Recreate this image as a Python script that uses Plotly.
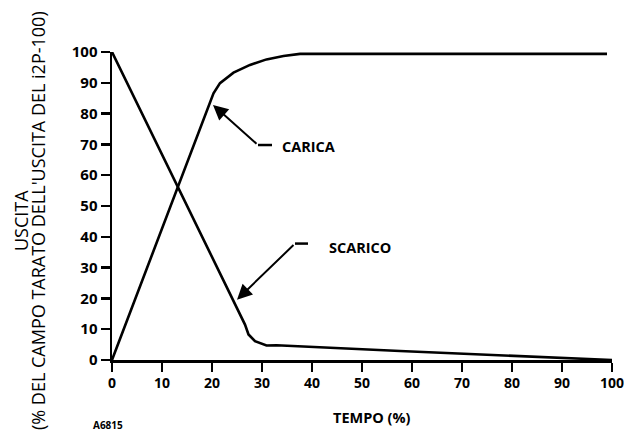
import plotly.graph_objects as go

# Data
carica_x = [0, 20.3, 21.6, 24.3, 27.6, 30.9, 34.3, 37.6, 99.0]
carica_y = [0, 86.6, 89.9, 93.3, 95.8, 97.6, 98.7, 99.4, 99.4]

scarico_x = [0, 26.6, 27.3, 28.6, 30.9, 32.9, 57.6, 100]
scarico_y = [100, 11.5, 8.3, 6.1, 4.7, 4.8, 2.9, 0]

x_ticks = [0, 10, 20, 30, 40, 50, 60, 70, 80, 90, 100]
y_ticks = [0, 10, 20, 30, 40, 50, 60, 70, 80, 90, 100]

# Callout geometry (data coords): tip, tail, end of horizontal leg, text position
carica_tip = (20.2, 82.8)
carica_tail = (29.2, 69.8)
carica_leg_end = (32.0, 69.8)
carica_text = (33.6, 69.2)

scarico_tip = (25.0, 19.6)
scarico_tail = (36.6, 37.8)
scarico_leg_end = (39.2, 37.8)
scarico_text = (43.0, 36.5)

FONT = "Open Sans"

# Plot area sits at x 112..612, y 52..360 of the window (body margin removed below).
L, T = 112, 52
PW, PH = 500, 308

def px(xw):
    return (xw - 112) / PW

def py(yw):
    return (360 - yw) / PH

fig = go.Figure()
fig.add_trace(go.Scatter(x=carica_x, y=carica_y, mode="lines",
                         line=dict(color="black", width=2.6), name="CARICA"))
fig.add_trace(go.Scatter(x=scarico_x, y=scarico_y, mode="lines",
                         line=dict(color="black", width=2.6), name="SCARICO"))

for tip, tail, leg, txt, label in [
    (carica_tip, carica_tail, carica_leg_end, carica_text, "CARICA"),
    (scarico_tip, scarico_tail, scarico_leg_end, scarico_text, "SCARICO"),
]:
    fig.add_annotation(x=tip[0], y=tip[1], ax=tail[0], ay=tail[1],
                       xref="x", yref="y", axref="x", ayref="y",
                       text="", showarrow=True, arrowhead=2, arrowsize=1.5,
                       arrowwidth=2, arrowcolor="black")
    fig.add_shape(type="line", x0=tail[0], y0=tail[1], x1=leg[0], y1=leg[1],
                  xref="x", yref="y", line=dict(color="black", width=2.5))
    fig.add_annotation(x=txt[0], y=txt[1], xref="x", yref="y", text=label,
                       showarrow=False, xanchor="left", yanchor="middle",
                       font=dict(family=FONT, size=14.5, weight="bold", color="black"))

# Axis titles
fig.add_annotation(x=px(21), y=py(221), xref="paper", yref="paper",
                   text="USCITA", textangle=-90, showarrow=False,
                   xanchor="center", yanchor="middle",
                   font=dict(family=FONT, size=18, color="black"))
fig.add_annotation(x=px(38), y=py(221), xref="paper", yref="paper",
                   text="(% DEL CAMPO TARATO DELL'USCITA DEL i2P-100)", textangle=-90,
                   showarrow=False, xanchor="center", yanchor="middle",
                   font=dict(family=FONT, size=18, color="black"))
fig.add_annotation(x=px(372), y=py(418), xref="paper", yref="paper",
                   text="TEMPO (%)", showarrow=False, xanchor="center", yanchor="middle",
                   font=dict(family=FONT, size=14.5, weight="bold", color="black"))
fig.add_annotation(x=px(108), y=py(425), xref="paper", yref="paper",
                   text="A6815", showarrow=False, xanchor="center", yanchor="middle",
                   font=dict(family=FONT, size=10, weight="bold", color="black"))

axis_common = dict(showline=True, linewidth=2.5, linecolor="black", ticks="outside",
                   ticklen=9, tickwidth=2.5, tickcolor="black", showgrid=False,
                   zeroline=False, range=[0, 100], ticklabeloverflow="allow")
fig.update_xaxes(tickvals=x_ticks,
                 tickfont=dict(family=FONT, size=14, weight="bold", color="black"),
                 **axis_common)
fig.update_yaxes(tickvals=y_ticks,
                 tickfont=dict(family=FONT, size=15, weight="bold", color="black"),
                 **axis_common)

fig.update_layout(width=624, height=436,
                  margin=dict(l=L, r=624 - L - PW, t=T, b=436 - T - PH, autoexpand=False),
                  paper_bgcolor="white", plot_bgcolor="white", showlegend=False)

fig.write_html("out.html",
               config={"displayModeBar": False, "staticPlot": True},
               post_script="document.body.style.margin='0';document.body.style.overflow='hidden';")
